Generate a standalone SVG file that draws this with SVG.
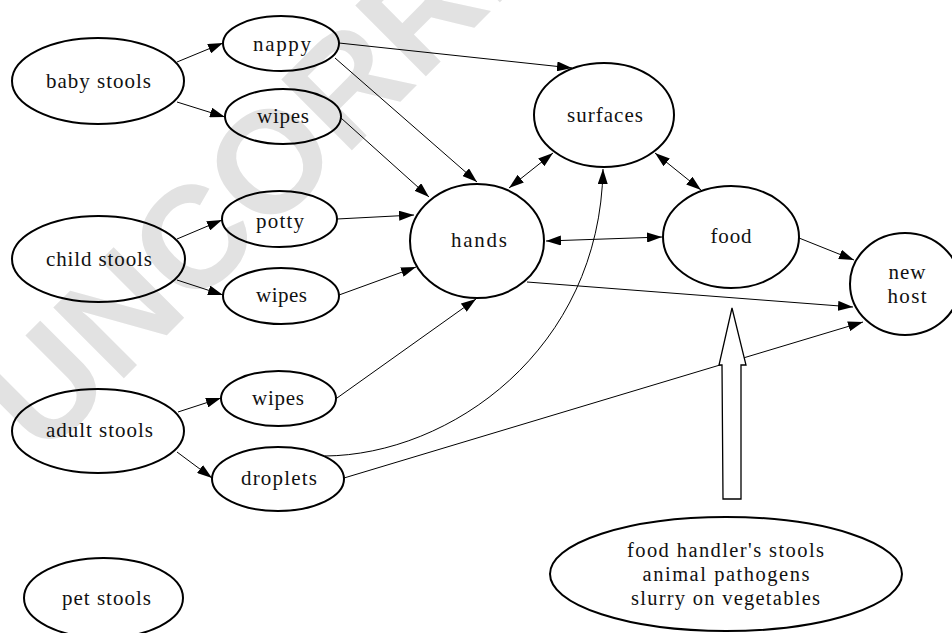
<svg xmlns="http://www.w3.org/2000/svg" width="952" height="633" viewBox="0 0 952 633">
<defs>
<style>
.node ellipse{fill:none;stroke:#000;stroke-width:2}
.node text{font-family:"Liberation Serif","Times New Roman",serif;font-size:21px;fill:#111;text-anchor:middle}
.big text{font-size:20.5px}
#connectors path{fill:none;stroke:#000;stroke-width:1}
.wm{font-family:"Liberation Sans",Arial,sans-serif;font-weight:bold;font-size:145px;fill:#e2e2e2}
</style>
<marker id="ah" markerUnits="userSpaceOnUse" markerWidth="16" markerHeight="10" refX="15" refY="5" orient="auto-start-reverse">
<path d="M0,0 L15,5 L0,10 z" fill="#000"/>
</marker>
</defs>
<rect width="952" height="633" fill="#fff"/>
<text class="wm" transform="translate(43,459) rotate(-45)">UNCORREC</text>

<g id="connectors">
<path d="M177,62 L223,43" marker-end="url(#ah)"/>
<path d="M177,102 L225,117" marker-end="url(#ah)"/>
<path d="M339,43 L572,68" marker-end="url(#ah)"/>
<path d="M335,58 L477,182" marker-end="url(#ah)"/>
<path d="M341,118 L429,197" marker-end="url(#ah)"/>
<path d="M177,239 L222,220" marker-end="url(#ah)"/>
<path d="M177,280 L223,295" marker-end="url(#ah)"/>
<path d="M337,219 L414,215" marker-end="url(#ah)"/>
<path d="M339,295 L416,267" marker-end="url(#ah)"/>
<path d="M178,412 L221,398" marker-end="url(#ah)"/>
<path d="M177,452 L212,478" marker-end="url(#ah)"/>
<path d="M337,398 L476,299" marker-end="url(#ah)"/>
<path d="M325,456 C450,455 600,350 603,169" marker-end="url(#ah)"/>
<path d="M344,478 L863,322" marker-end="url(#ah)"/>
<path d="M527,282 L853,307" marker-end="url(#ah)"/>
<path d="M799,238 L854,260" marker-end="url(#ah)"/>
<path d="M546,241 L662,237" marker-start="url(#ah)" marker-end="url(#ah)"/>
<path d="M509,188 L553,153" marker-start="url(#ah)" marker-end="url(#ah)"/>
<path d="M655,153 L701,190" marker-start="url(#ah)" marker-end="url(#ah)"/>
</g>

<g id="big-arrow">
<polygon points="732,308 746,365 741,365 741,499 723,499 722,365 719,365" fill="#fff" stroke="#000" stroke-width="1.3" stroke-linejoin="miter"/>
</g>

<g id="baby-stools" class="node"><ellipse cx="98" cy="81" rx="86" ry="43"/><text x="98.5" y="88" textLength="105">baby stools</text></g>
<g id="nappy" class="node"><ellipse cx="281" cy="43.5" rx="58" ry="27.5"/><text x="282" y="51" textLength="58">nappy</text></g>
<g id="wipes-baby" class="node"><ellipse cx="283" cy="116.5" rx="58" ry="27.5"/><text x="283" y="123" textLength="52">wipes</text></g>
<g id="child-stools" class="node"><ellipse cx="98.5" cy="259" rx="86.5" ry="43"/><text x="99" y="266" textLength="106">child stools</text></g>
<g id="potty" class="node"><ellipse cx="279.5" cy="219" rx="57.5" ry="28"/><text x="280" y="228" textLength="48">potty</text></g>
<g id="wipes-child" class="node"><ellipse cx="281" cy="296" rx="58" ry="28"/><text x="281.5" y="302" textLength="51">wipes</text></g>
<g id="adult-stools" class="node"><ellipse cx="98" cy="431" rx="86" ry="42"/><text x="99.5" y="437" textLength="107">adult stools</text></g>
<g id="wipes-adult" class="node"><ellipse cx="278.5" cy="398.5" rx="57.5" ry="27.5"/><text x="278" y="405" textLength="52">wipes</text></g>
<g id="droplets" class="node"><ellipse cx="278" cy="479" rx="66" ry="32"/><text x="279" y="485" textLength="76">droplets</text></g>
<g id="pet-stools" class="node"><ellipse cx="103.5" cy="598" rx="79.5" ry="40"/><text x="106.5" y="605" textLength="89">pet stools</text></g>
<g id="hands" class="node"><ellipse cx="477" cy="241" rx="67" ry="57"/><text x="479" y="247" textLength="56">hands</text></g>
<g id="surfaces" class="node"><ellipse cx="604" cy="115" rx="70" ry="52"/><text x="605" y="122" textLength="76">surfaces</text></g>
<g id="food" class="node"><ellipse cx="731" cy="237" rx="68" ry="51"/><text x="731" y="243" textLength="41">food</text></g>
<g id="new-host" class="node"><ellipse cx="905" cy="284" rx="55" ry="51"/><text x="907" y="279" textLength="37">new</text><text x="907" y="303" textLength="39">host</text></g>
<g id="other-sources" class="node big"><ellipse cx="726" cy="574" rx="176" ry="57"/>
<text x="725.5" y="557" textLength="197">food handler's stools</text>
<text x="726" y="581" textLength="167">animal pathogens</text>
<text x="725.5" y="605" textLength="189">slurry on vegetables</text></g>
</svg>
